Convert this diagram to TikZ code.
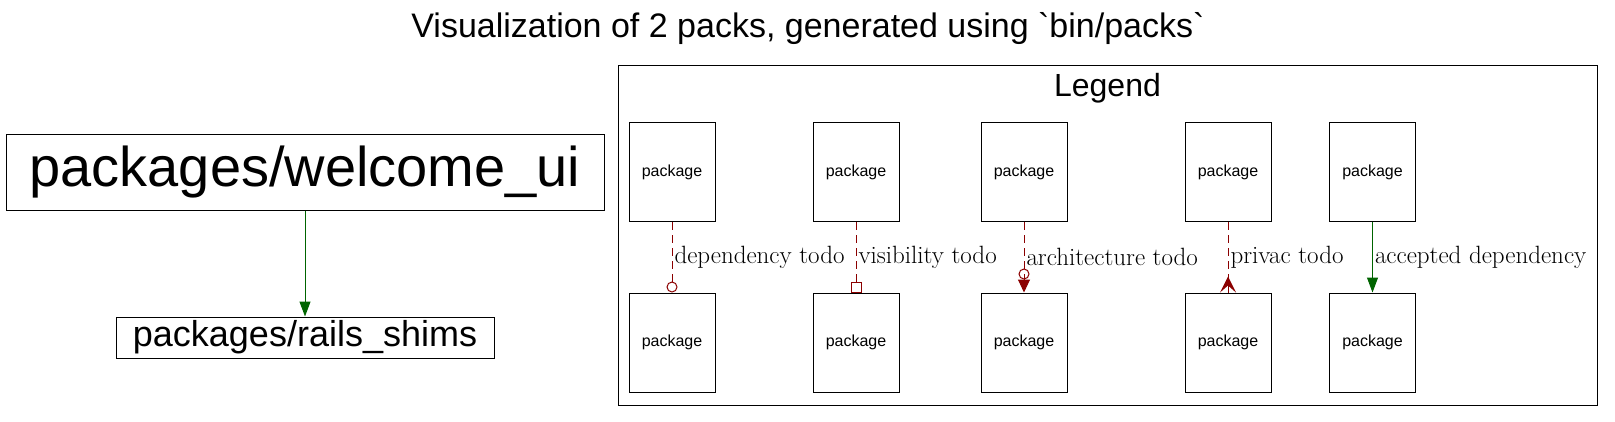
\documentclass[tikz,border=0pt]{standalone}
\usepackage{fontspec}
\newfontfamily\packfont{Liberation Sans}
\usepackage{tikz}
\usetikzlibrary{arrows.meta}
\definecolor{todored}{HTML}{8B0000}
\definecolor{okgreen}{HTML}{006400}

\begin{document}
\begin{tikzpicture}[x=1pt, y=-1pt,
    pack/.style={draw, rectangle, line width=1pt, inner sep=0pt, align=center},
    legendpkg/.style={pack, minimum width=86pt, minimum height=99pt,
                      font=\packfont\fontsize{16}{19}\selectfont},
    heading/.style={font=\packfont\fontsize{32}{38}\selectfont, inner sep=0pt, anchor=base},
    okarrow/.style={-{Triangle[length=15pt, width=11pt]}, line width=1pt, draw=okgreen},
    todoline/.style={line width=1pt, draw=todored, dash pattern=on 8pt off 5pt},
    lbl/.style={font=\fontsize{25}{29}\selectfont, inner sep=2pt, right}
  ]
    \useasboundingbox (0,0) rectangle (1615,421);

    \node[heading, font=\packfont\fontsize{34}{40}\selectfont] (title) at (808,37)
      {Visualization of 2 packs, generated using \textasciigrave bin/packs\textasciigrave};

    \node[pack, minimum width=598pt, minimum height=76pt,
          font=\packfont\fontsize{56}{60}\selectfont] (welcome) at (305,172) {packages/welcome\_ui};
    \node[pack, minimum width=378pt, minimum height=41pt,
          font=\packfont\fontsize{36}{40}\selectfont] (shims) at (305,337.5) {packages/rails\_shims};
    \draw[okarrow] (welcome) -- (shims);

    % legend cluster
    \node[pack, minimum width=979pt, minimum height=340pt] (legend) at (1107.5,235) {};
    \node[heading] (legendtitle) at (1107.5,96) {Legend};

    \node[legendpkg] (depA)  at (672,172)    {package};
    \node[legendpkg] (depB)  at (672,342.5)  {package};
    \node[legendpkg] (visA)  at (856,172)    {package};
    \node[legendpkg] (visB)  at (856,342.5)  {package};
    \node[legendpkg] (archA) at (1024,172)   {package};
    \node[legendpkg] (archB) at (1024,342.5) {package};
    \node[legendpkg] (privA) at (1228,172)   {package};
    \node[legendpkg] (privB) at (1228,342.5) {package};
    \node[legendpkg] (accA)  at (1372.5,172)   {package};
    \node[legendpkg] (accB)  at (1372.5,342.5) {package};

    \draw[todoline, -{Circle[open, length=11pt, width=11pt]}]
      (depA) -- node[lbl] {dependency todo} (depB);
    \draw[todoline, -{Square[open, length=11pt, width=11pt]}]
      (visA) -- node[lbl] {visibility todo} (visB);
    \draw[todoline, -{Circle[open, length=11pt, width=11pt] Triangle[length=13pt, width=12pt]}]
      (archA) -- node[lbl] {architecture todo} (archB);
    \draw[todoline, -{Stealth[reversed, length=16pt, width=16pt, inset=7pt]}]
      (privA) -- node[lbl] {privac todo} (privB);
    % middle prong of the crow foot
    \draw[todoline, solid] (privB.north) -- ++(0,-16);
    \draw[okarrow] (accA) -- node[lbl] {accepted dependency} (accB);
  \end{tikzpicture}
\end{document}
